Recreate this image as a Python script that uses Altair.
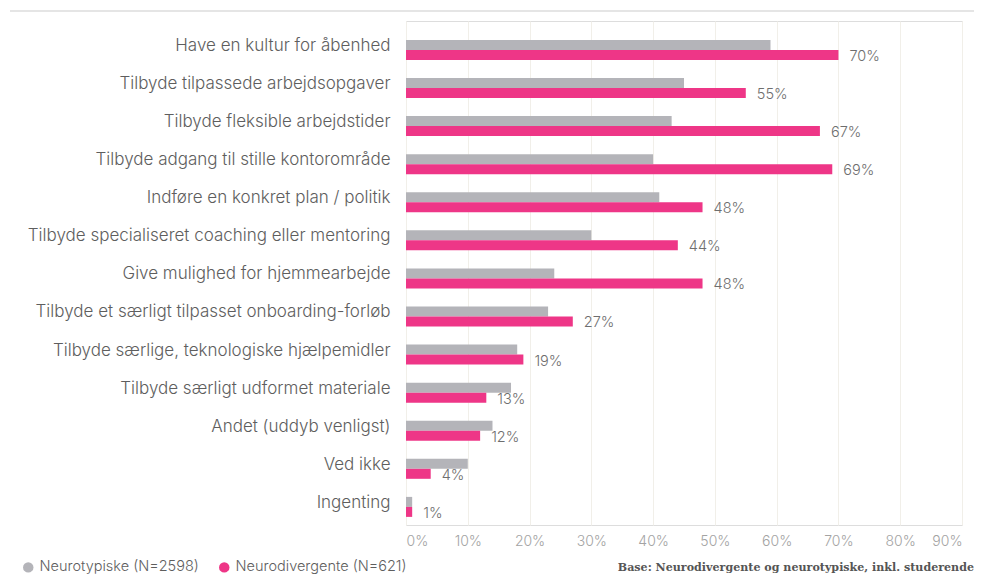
import altair as alt
import pandas as pd

categories = [
    "Have en kultur for åbenhed",
    "Tilbyde tilpassede arbejdsopgaver",
    "Tilbyde fleksible arbejdstider",
    "Tilbyde adgang til stille kontorområde",
    "Indføre en konkret plan / politik",
    "Tilbyde specialiseret coaching eller mentoring",
    "Give mulighed for hjemmearbejde",
    "Tilbyde et særligt tilpasset onboarding-forløb",
    "Tilbyde særlige, teknologiske hjælpemidler",
    "Tilbyde særligt udformet materiale",
    "Andet (uddyb venligst)",
    "Ved ikke",
    "Ingenting",
]
neurotypiske = [59, 45, 43, 40, 41, 30, 24, 23, 18, 17, 14, 10, 1]
neurodivergente = [70, 55, 67, 69, 48, 44, 48, 27, 19, 13, 12, 4, 1]
series_names = ["Neurotypiske (N=2598)", "Neurodivergente (N=621)"]
series_colors = ["#b4b4b9", "#ee3687"]
x_ticks = [0, 10, 20, 30, 40, 50, 60, 70, 80, 90]
base_note = "Base: Neurodivergente og neurotypiske, inkl. studerende"

rows = []
for c, a, b in zip(categories, neurotypiske, neurodivergente):
    rows.append({"cat": c, "series": series_names[0], "value": a})
    rows.append({"cat": c, "series": series_names[1], "value": b})
df = pd.DataFrame(rows)

FONT = "Inter"

y_enc = alt.Y(
    "cat:N",
    sort=categories,
    title=None,
    scale=alt.Scale(paddingInner=0.475, paddingOuter=0.355, align=0.7),
    axis=alt.Axis(
        domain=False, ticks=False, grid=False, labelFontSize=17,
        labelFontWeight=300,
        labelColor="#5e5e5e", labelFont=FONT, labelPadding=16,
        labelOffset=-4, labelLimit=400,
    ),
)
x_enc = alt.X(
    "value:Q",
    title=None,
    scale=alt.Scale(domain=[0, 90], nice=False),
    axis=alt.Axis(
        values=x_ticks, labelExpr="datum.value + '%'", domain=False, ticks=False,
        grid=True, gridColor="#f1efe9", gridWidth=1, labelFontSize=14,
        labelFontWeight=300,
        labelColor="#a3a3a3", labelFont=FONT, labelPadding=9,
    ),
)
yoff = alt.YOffset("series:N", sort=series_names,
                   scale=alt.Scale(domain=series_names, paddingInner=0, paddingOuter=0))

bars = alt.Chart(df).mark_bar(cornerRadius=0).encode(
    x=x_enc,
    y=y_enc,
    yOffset=yoff,
    color=alt.Color(
        "series:N",
        scale=alt.Scale(domain=series_names, range=series_colors),
        legend=alt.Legend(
            title=None, orient="none", legendX=-385, legendY=539,
            direction="horizontal", symbolType="circle", symbolSize=110,
            symbolStrokeWidth=0, labelFontSize=14.5, labelFontWeight=300,
            labelColor="#5e5e5e",
            labelFont=FONT, columnPadding=18, labelLimit=300,
        ),
    ),
)

labels = alt.Chart(df).transform_filter(
    alt.datum.series == series_names[1]
).transform_calculate(
    lbl="datum.value + '%'"
).mark_text(
    align="left", baseline="middle", dx=11, dy=2, fontSize=14.5,
    fontWeight=300,
    color="#6e6e6e", font=FONT,
).encode(
    x="value:Q",
    y=alt.Y("cat:N", sort=categories),
    yOffset=yoff,
    text="lbl:N",
)

top_rule = alt.Chart(pd.DataFrame({"a": [0]})).mark_rule(
    color="#dcdcdc", strokeWidth=1.5
).encode(x=alt.value(-396), x2=alt.value(570), y=alt.value(-10))

note = alt.Chart(pd.DataFrame({"t": [base_note]})).mark_text(
    align="right", baseline="middle", fontSize=11.1, font="DejaVu Serif",
    color="#555555", fontWeight="bold",
).encode(x=alt.value(568), y=alt.value(547), text="t:N")

chart = alt.layer(top_rule, bars, labels, note).properties(
    width=556, height=504,
    autosize=alt.AutoSizeParams(type="none"),
    padding={"left": 398, "top": 13, "right": 12, "bottom": 53},
).configure_view(stroke=None).configure(background="white")

chart.save("out.html", embed_options={"renderer": "svg", "actions": False})
